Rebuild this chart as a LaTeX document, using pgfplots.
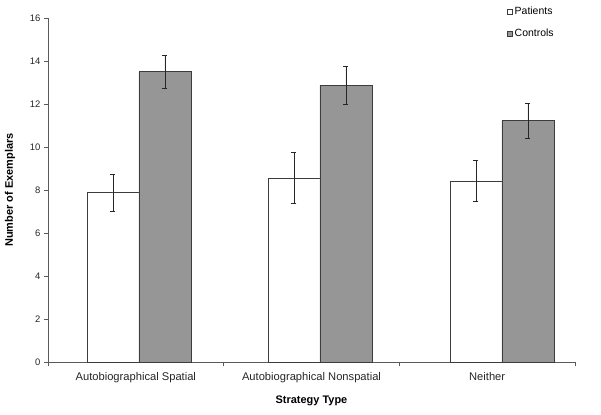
\documentclass[border=0pt]{standalone}
\usepackage{pgfplots}
\pgfplotsset{compat=1.18}
\usepackage{fontspec}
\setmainfont{Liberation Sans}
\usetikzlibrary{calc}
\definecolor{ctrl}{HTML}{969696}
\definecolor{edge}{HTML}{3C3C3C}
\definecolor{axcol}{HTML}{5A5A5A}
\begin{document}
\begin{tikzpicture}
\begin{axis}[
  scale only axis, width=527bp, height=344bp,
  xmin=-0.5, xmax=2.5, ymin=0, ymax=16,
  ytick={0,2,...,16},
  xtick={-0.5,0.5,1.5,2.5},
  x tick label as interval,
  xticklabels={Autobiographical Spatial, Autobiographical Nonspatial, Neither},
  axis x line*=bottom, axis y line*=left,
  axis line style={draw=axcol, line width=0.8pt},
  tick style={draw=axcol, line width=0.7pt},
  tick align=outside, major tick length=4bp,
  /pgf/number format/assume math mode=true,
  yticklabel style={font=\fontsize{9.5}{10}\selectfont, text=black!85},
  xticklabel style={font=\fontsize{11.2}{13}\selectfont, text=black!85, yshift=-3bp},
  ylabel={\textbf{Number of Exemplars}},
  xlabel={\textbf{Strategy Type}},
  every axis y label/.style={at={(axis description cs:-0.072,0.5)}, rotate=90, anchor=center, font=\fontsize{11}{13}\selectfont},
  every axis x label/.style={at={(axis description cs:0.5,0)}, yshift=-39bp, anchor=center, font=\fontsize{11}{13}\selectfont},
  ybar=0pt, bar width=52bp,
  legend style={at={(0.871,1.038)}, anchor=north west, draw=none, fill=none,
    font=\fontsize{10.5}{12}\selectfont, row sep=9bp, inner sep=0pt},
  legend cell align=left,
  legend image code/.code={\draw[#1, draw=edge, line width=0.5pt] (0bp,-2.5bp) rectangle (5bp,2.5bp);},
  error bars/error bar style={draw=black!85, line width=0.8pt},
  error bars/error mark options={rotate=90, mark size=2.5bp, draw=black!85, line width=0.8pt},
]
\addplot[fill=white, draw=edge, line width=0.8pt,
  error bars/.cd, y dir=both, y explicit]
  coordinates {(0.018,7.88) +- (0,0.86) (1.048,8.56) +- (0,1.18) (2.084,8.42) +- (0,0.97)};
\addplot[fill=ctrl, draw=edge, line width=0.8pt,
  error bars/.cd, y dir=both, y explicit]
  coordinates {(0.018,13.5) +- (0,0.77) (1.048,12.87) +- (0,0.9) (2.084,11.22) +- (0,0.8)};
\legend{Patients, Controls}
\end{axis}
\pgfresetboundingbox
\path[use as bounding box] ($(current axis.south west)+(-48bp,-53bp)$) rectangle ($(current axis.north east)+(26bp,18bp)$);
\end{tikzpicture}
\end{document}
